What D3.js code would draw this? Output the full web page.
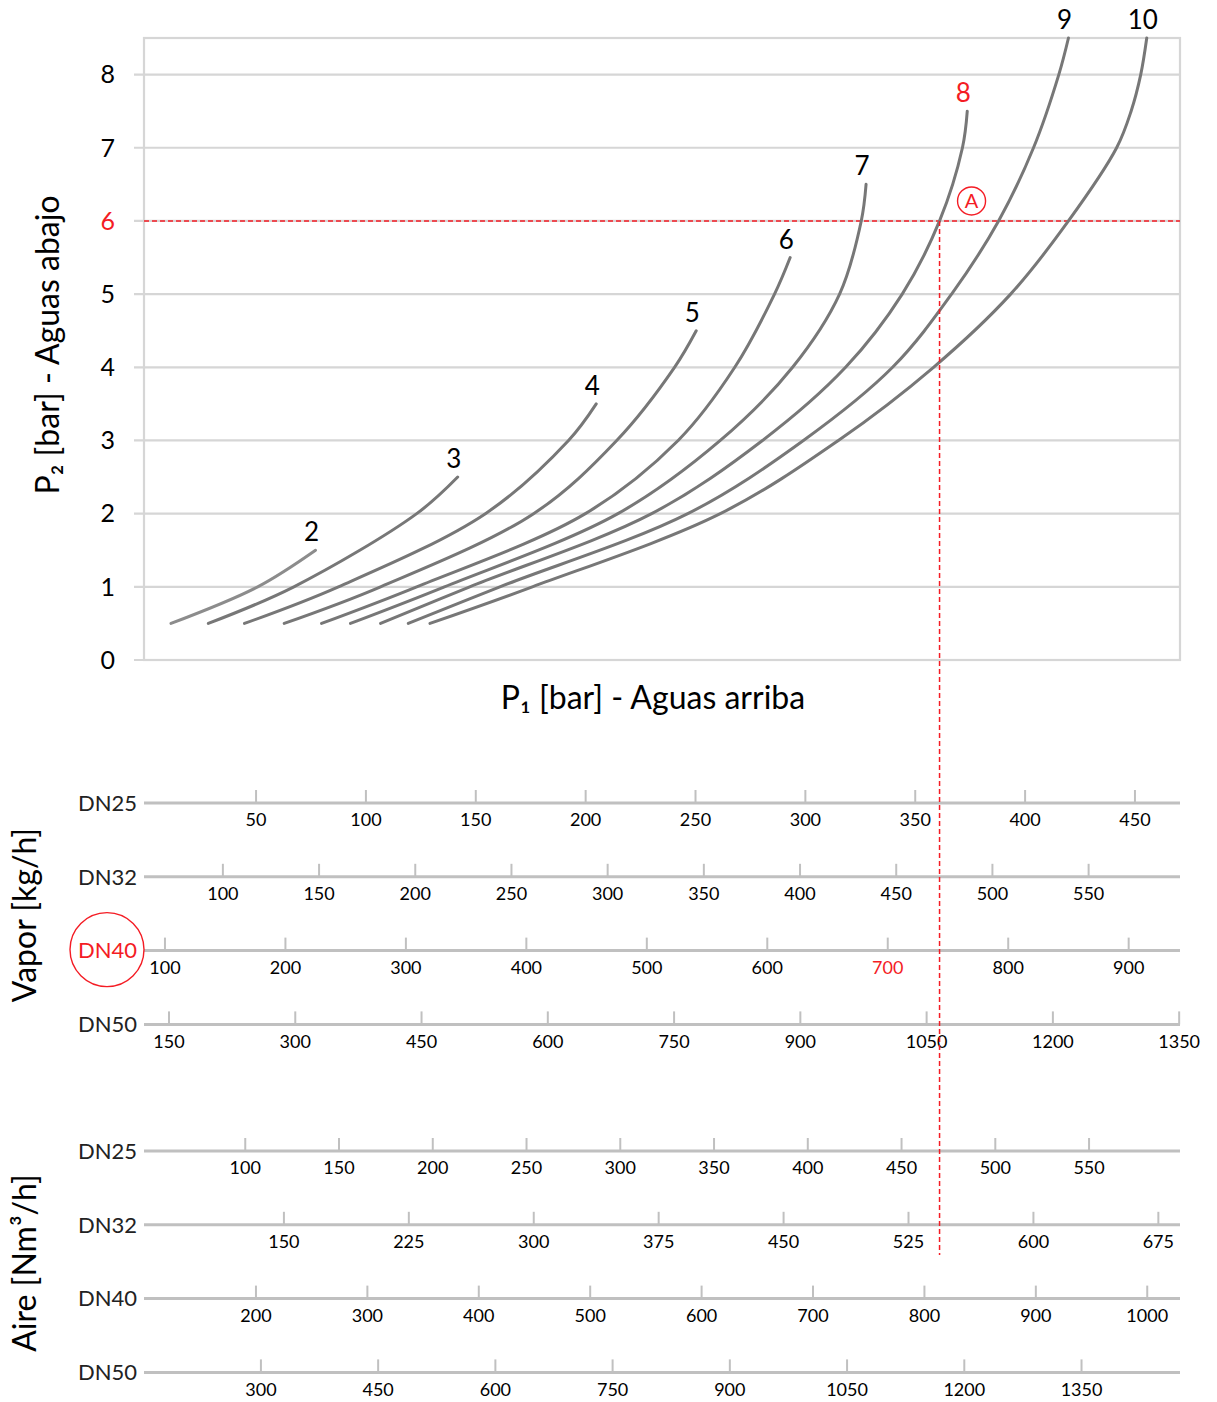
<!DOCTYPE html>
<meta charset="utf-8">
<style>
  body { margin: 0; background: #fff; }
  text { font-family: Lato, "Open Sans", sans-serif; }
</style>
<script src="https://d3js.org/d3.v7.min.js"></script>
<div id="chart"></div>
<script>
  // ---- data ----
  // top plot: P2 ticks and curves (x = steam flow on the DN40 scale, kg/h)
  const p2Ticks = [0, 1, 2, 3, 4, 5, 6, 7, 8];
  const curveLabels = ["2", "3", "4", "5", "6", "7", "8", "9", "10"];
  const curveP2 = [
    [0.5, 1, 1.5],
    [0.5, 1, 2, 2.5],
    [0.5, 1, 2, 3, 3.5],
    [0.5, 1, 2, 3, 4, 4.5],
    [0.5, 1, 2, 3, 4, 5, 5.5],
    [0.5, 1, 2, 3, 4, 5, 6, 6.5],
    [0.5, 1, 2, 3, 4, 5, 6, 7, 7.5],
    [0.5, 1, 2, 3, 4, 5, 6, 7, 8, 8.5],
    [0.5, 1, 2, 3, 4, 5, 6, 7, 7.5, 8, 8.5]
  ];
  const curveFlow = [
    [105, 177, 225],
    [136, 207, 309, 343],
    [166, 244, 366, 435, 458],
    [199, 279, 406, 475, 523, 541],
    [230, 309, 449, 526, 573, 606, 619],
    [254, 332, 476, 561, 621, 660, 678, 682],
    [279, 353, 504, 596, 665, 712, 743, 762, 766],
    [302, 378, 534, 630, 704, 753, 792, 821, 842, 850],
    [320, 405, 561, 659, 738, 802, 850, 890, 902, 910, 915]
  ];

  // worked example: point A
  const selectedP2 = 6;
  const selectedFlow = 743;
  const selectedCurve = "8";
  const selectedSize = "DN40";
  const selectedTick = 700;

  // flow scales below the plot (values at the left and right edge of the plot)
  const sizes = ["DN25", "DN32", "DN40", "DN50"];
  const vaporTicks = [
    [50, 100, 150, 200, 250, 300, 350, 400, 450],
    [100, 150, 200, 250, 300, 350, 400, 450, 500, 550],
    [100, 200, 300, 400, 500, 600, 700, 800, 900],
    [150, 300, 450, 600, 750, 900, 1050, 1200, 1350]
  ];
  const vaporEdges = [[-1, 470.5], [59, 597.5], [82.6, 942.6], [120.3, 1351]];
  const airTicks = [
    [100, 150, 200, 250, 300, 350, 400, 450, 500, 550],
    [150, 225, 300, 375, 450, 525, 600, 675],
    [200, 300, 400, 500, 600, 700, 800, 900, 1000],
    [300, 450, 600, 750, 900, 1050, 1200, 1350]
  ];
  const airEdges = [[46, 598.5], [66, 688], [99.5, 1029.4], [150.4, 1476]];

  // ---- layout ----
  const W = 1217, H = 1402;
  const plot = { left: 144, right: 1180, top: 38, bottom: 660 };
  const red = "#f41c24", grid = "#d6d6d6", scaleGray = "#c0c0c0";

  const svg = d3.select("#chart").append("svg")
    .attr("width", W).attr("height", H);

  const x = d3.scaleLinear().domain(vaporEdges[2]).range([plot.left, plot.right]);
  const y = d3.scaleLinear().domain([0, 8.5]).range([plot.bottom, plot.top]);

  // gridlines + ticks
  svg.append("g").selectAll("line")
    .data(p2Ticks)
    .join("line")
    .attr("x1", plot.left - 10).attr("x2", plot.right)
    .attr("y1", d => y(d)).attr("y2", d => y(d))
    .attr("stroke", grid).attr("stroke-width", 2.2);

  // frame
  svg.append("rect")
    .attr("x", plot.left).attr("y", plot.top)
    .attr("width", plot.right - plot.left).attr("height", plot.bottom - plot.top)
    .attr("fill", "none").attr("stroke", grid).attr("stroke-width", 2.2);

  svg.append("g").selectAll("text")
    .data(p2Ticks)
    .join("text")
    .attr("x", plot.left - 29).attr("y", d => y(d))
    .attr("dy", "0.35em")
    .attr("text-anchor", "end")
    .attr("font-size", 25)
    .attr("fill", d => d === selectedP2 ? red : "#000")
    .text(d => d);

  // red dashed guide line at P2
  svg.append("line")
    .attr("x1", plot.left).attr("x2", plot.right)
    .attr("y1", y(selectedP2)).attr("y2", y(selectedP2))
    .attr("stroke", red).attr("stroke-width", 1.4).attr("stroke-dasharray", "5,3");

  // curves
  const line = d3.line()
    .x(d => x(d[0])).y(d => y(d[1]))
    .curve(d3.curveCatmullRom.alpha(0.5));

  const curves = curveLabels.map((name, i) => ({
    name: name,
    pts: curveFlow[i].map((f, j) => [f, curveP2[i][j]])
  }));

  svg.append("g").selectAll("path")
    .data(curves)
    .join("path")
    .attr("d", d => line(d.pts))
    .attr("fill", "none")
    .attr("stroke", (d, i) => i === 0 ? "#8c8c8c" : "#777777")
    .attr("stroke-width", 3)
    .attr("stroke-linecap", "round");

  svg.append("g").selectAll("text")
    .data(curves)
    .join("text")
    .attr("x", d => x(d.pts[d.pts.length - 1][0]) - 4)
    .attr("y", d => y(d.pts[d.pts.length - 1][1]) - 18)
    .attr("dy", "0.35em")
    .attr("text-anchor", "middle")
    .attr("font-size", 26)
    .attr("fill", d => d.name === selectedCurve ? red : "#000")
    .text(d => d.name);

  // point A marker
  const ax = x(selectedFlow) + 32, ay = y(selectedP2) - 20;
  svg.append("circle")
    .attr("cx", ax).attr("cy", ay).attr("r", 14)
    .attr("fill", "none").attr("stroke", red).attr("stroke-width", 1.4);
  svg.append("text")
    .attr("x", ax).attr("y", ay).attr("dy", "0.36em")
    .attr("text-anchor", "middle").attr("font-size", 20)
    .attr("fill", red).text("A");

  // axis titles
  svg.append("text")
    .attr("x", 653).attr("y", 698).attr("dy", "0.35em")
    .attr("text-anchor", "middle").attr("font-size", 32)
    .text("P₁ [bar] - Aguas arriba");
  svg.append("text")
    .attr("transform", "translate(48,345) rotate(-90)")
    .attr("dy", "0.35em")
    .attr("text-anchor", "middle").attr("font-size", 32)
    .text("P₂ [bar] - Aguas abajo");

  // flow scales
  function flowGroup(ticks, edges, y0, step, title, titleY, highlight) {
    const g = svg.append("g");
    sizes.forEach((size, i) => {
      const s = d3.scaleLinear().domain(edges[i]).range([plot.left, plot.right]);
      const ly = y0 + i * step;
      g.append("line")
        .attr("x1", plot.left).attr("x2", plot.right).attr("y1", ly).attr("y2", ly)
        .attr("stroke", scaleGray).attr("stroke-width", 3);
      g.append("g").selectAll("line")
        .data(ticks[i])
        .join("line")
        .attr("x1", d => s(d)).attr("x2", d => s(d))
        .attr("y1", ly - 13).attr("y2", ly)
        .attr("stroke", scaleGray).attr("stroke-width", 2);
      g.append("g").selectAll("text")
        .data(ticks[i])
        .join("text")
        .attr("x", d => s(d)).attr("y", ly + 17)
        .attr("dy", "0.35em")
        .attr("text-anchor", "middle").attr("font-size", 18)
        .attr("fill", d => highlight && size === selectedSize && d === selectedTick ? red : "#000")
        .text(d => d);
      g.append("text")
        .attr("x", plot.left - 7).attr("y", ly).attr("dy", "0.35em")
        .attr("text-anchor", "end").attr("font-size", 22)
        .attr("fill", highlight && size === selectedSize ? red : "#222")
        .text(size);
      if (highlight && size === selectedSize) {
        g.append("circle")
          .attr("cx", 107).attr("cy", ly - 1).attr("r", 37)
          .attr("fill", "none").attr("stroke", red).attr("stroke-width", 1.4);
      }
    });
    svg.append("text")
      .attr("transform", `translate(25,${titleY}) rotate(-90)`)
      .attr("dy", "0.35em")
      .attr("text-anchor", "middle").attr("font-size", 32)
      .text(title);
  }

  flowGroup(vaporTicks, vaporEdges, 803, 73.8, "Vapor [kg/h]", 915, true);
  flowGroup(airTicks, airEdges, 1151, 73.8, "Aire [Nm³/h]", 1263, false);

  // vertical dashed guide from point A down to the scales
  svg.append("line")
    .attr("x1", x(selectedFlow)).attr("x2", x(selectedFlow))
    .attr("y1", y(selectedP2)).attr("y2", 1255)
    .attr("stroke", red).attr("stroke-width", 1.5).attr("stroke-dasharray", "5,3");
</script>
